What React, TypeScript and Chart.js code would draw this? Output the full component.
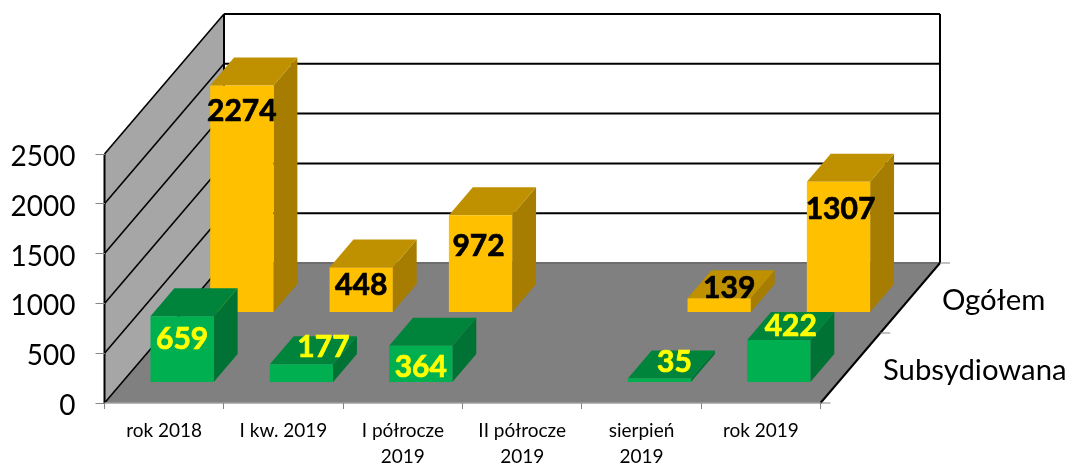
import React, { useEffect, useRef } from "react";
import { Chart, registerables } from "chart.js";

Chart.register(...registerables);

const categories: (string | string[])[] = [
  "rok 2018",
  "I kw. 2019",
  ["I półrocze", "2019"],
  ["II półrocze", "2019"],
  ["sierpień", "2019"],
  "rok 2019",
];
const ogolem: (number | null)[] = [2274, 448, 972, null, 139, 1307];
const subsydiowana: (number | null)[] = [659, 177, 364, null, 35, 422];
const yMax = 2500;
const yStep = 500;

// 3D projection of the floor: a full depth moves this many px right / up
const DEPTH_X = 119.5;
const DEPTH_Y = 140;
const SERIES_DEPTH = [0.65, 0.15]; // where each series stands on the floor
const BAR_DEPTH = 0.2;

// hand-placed label offsets, relative to the top-front centre of each bar
const labelOffsets: { dx: number; dy: number }[][] = [
  [
    { dx: 0, dy: 26 },
    { dx: 0, dy: 18 },
    { dx: -2, dy: 31 },
    { dx: 0, dy: 0 },
    { dx: 10, dy: -10 },
    { dx: 2, dy: 28 },
  ],
  [
    { dx: 0, dy: 23 },
    { dx: 22, dy: -17 },
    { dx: 0, dy: 22 },
    { dx: 0, dy: 0 },
    { dx: 15, dy: -16 },
    { dx: 12, dy: -14 },
  ],
];
const faceColors = [
  { front: "#FFC000", top: "#BF9000", side: "#A67D00", label: "#000000" },
  { front: "#00B050", top: "#00843C", side: "#007234", label: "#FFFF00" },
];

function poly(ctx: CanvasRenderingContext2D, pts: number[][], fill: string) {
  ctx.beginPath();
  pts.forEach(([x, y], i) => (i ? ctx.lineTo(x, y) : ctx.moveTo(x, y)));
  ctx.closePath();
  ctx.fillStyle = fill;
  ctx.fill();
}

function line(ctx: CanvasRenderingContext2D, x1: number, y1: number, x2: number, y2: number, color: string, w: number) {
  ctx.beginPath();
  ctx.moveTo(x1, y1);
  ctx.lineTo(x2, y2);
  ctx.strokeStyle = color;
  ctx.lineWidth = w;
  ctx.stroke();
}

const box3d = {
  id: "box3d",
  beforeDraw(chart: any) {
    const { ctx, chartArea: a, scales } = chart;
    const y = scales.y;
    const y0 = y.getPixelForValue(0);
    const yTop = y.getPixelForValue(yMax);
    ctx.save();
    // left wall
    poly(ctx, [[a.left, y0], [a.left + DEPTH_X, y0 - DEPTH_Y], [a.left + DEPTH_X, yTop - DEPTH_Y], [a.left, yTop]], "#A6A6A6");
    // floor
    poly(ctx, [[a.left, y0], [a.right, y0], [a.right + DEPTH_X, y0 - DEPTH_Y], [a.left + DEPTH_X, y0 - DEPTH_Y]], "#808080");
    // grid lines on both walls
    y.ticks.forEach((t: any) => {
      const py = y.getPixelForValue(t.value);
      if (t.value > 0) {
        line(ctx, a.left + DEPTH_X, py - DEPTH_Y, a.right + DEPTH_X, py - DEPTH_Y, "#000000", 2);
      }
      line(ctx, a.left, py, a.left + DEPTH_X, py - DEPTH_Y, "#000000", 1.6);
    });
    // wall edges
    line(ctx, a.left + DEPTH_X, y0 - DEPTH_Y, a.right + DEPTH_X, y0 - DEPTH_Y, "#6E6E6E", 2);
    line(ctx, a.left + DEPTH_X, yTop - DEPTH_Y, a.left + DEPTH_X, y0 - DEPTH_Y, "#000000", 2);
    line(ctx, a.right + DEPTH_X, yTop - DEPTH_Y, a.right + DEPTH_X, y0 - DEPTH_Y, "#000000", 2);
    line(ctx, a.left, yTop, a.left, y0, "#000000", 2);
    line(ctx, a.right, y0, a.right + DEPTH_X, y0 - DEPTH_Y, "#000000", 2);
    line(ctx, a.left, y0, a.right, y0, "#A0A0A0", 1.5);
    // depth axis ticks and series names
    [0, 0.5, 1].forEach((d) => {
      const px = a.right + DEPTH_X * d;
      const py = y0 - DEPTH_Y * d;
      line(ctx, px, py, px + 10, py, "#868686", 1);
    });
    ctx.fillStyle = "#000000";
    ctx.font = "29.3px Lato";
    ctx.textBaseline = "middle";
    ctx.textAlign = "left";
    ctx.fillText(chart.data.datasets[0].label, 942, 301);
    ctx.fillText(chart.data.datasets[1].label, 883, 371);
    ctx.restore();
  },
  beforeDatasetsDraw(chart: any) {
    const { ctx, scales } = chart;
    const y0 = scales.y.getPixelForValue(0);
    ctx.save();
    const labels: (() => void)[] = [];
    chart.data.datasets.forEach((ds: any, si: number) => {
      const meta = chart.getDatasetMeta(si);
      const shiftX = DEPTH_X * SERIES_DEPTH[si];
      const shiftY = DEPTH_Y * SERIES_DEPTH[si];
      const dx = DEPTH_X * BAR_DEPTH;
      const dy = DEPTH_Y * BAR_DEPTH;
      const c = faceColors[si];
      meta.data.forEach((el: any, i: number) => {
        const v = ds.data[i];
        if (v == null) return;
        const l = el.x - el.width / 2 + shiftX;
        const r = el.x + el.width / 2 + shiftX;
        const top = el.y - shiftY;
        const bot = y0 - shiftY;
        poly(ctx, [[r, bot], [r + dx, bot - dy], [r + dx, top - dy], [r, top]], c.side);
        poly(ctx, [[l, top], [r, top], [r + dx, top - dy], [l + dx, top - dy]], c.top);
        poly(ctx, [[l, bot], [r, bot], [r, top], [l, top]], c.front);
        labels.push(() => {
          const o = labelOffsets[si][i];
          ctx.font = "bold 30px Lato";
          ctx.textAlign = "center";
          ctx.textBaseline = "middle";
          ctx.fillStyle = c.label;
          ctx.strokeStyle = c.label;
          ctx.lineWidth = 0.7;
          ctx.fillText(String(v), (l + r) / 2 + o.dx, top + o.dy);
          ctx.strokeText(String(v), (l + r) / 2 + o.dx, top + o.dy);
        });
      });
    });
    labels.forEach((f) => f());
    ctx.restore();
    return false;
  },
};

export default function App() {
  const ref = useRef<HTMLCanvasElement>(null);
  useEffect(() => {
    document.body.style.margin = "0";
    const chart = new Chart(ref.current as HTMLCanvasElement, {
      type: "bar",
      data: {
        labels: categories as any,
        datasets: [
          { label: "Ogółem", data: ogolem, backgroundColor: "#FFC000" },
          { label: "Subsydiowana", data: subsydiowana, backgroundColor: "#00B050" },
        ],
      },
      options: {
        animation: false,
        responsive: false,
        events: [],
        datasets: { bar: { grouped: false, barPercentage: 0.53, categoryPercentage: 1 } },
        layout: { padding: { top: 154, right: 249.5, left: 0, bottom: 0 } },
        plugins: { legend: { display: false }, tooltip: { enabled: false }, title: { display: false } },
        scales: {
          x: {
            offset: true,
            border: { display: false },
            grid: { drawOnChartArea: false, color: "#868686", tickLength: 6, offset: true },
            ticks: {
              autoSkip: false,
              maxRotation: 0,
              minRotation: 0,
              color: "#000000",
              padding: 9,
              font: { family: "Lato", size: 19, lineHeight: 1.37 },
            },
            afterFit: (s: any) => {
              s.height = 60;
            },
          },
          y: {
            min: 0,
            max: yMax,
            border: { display: false },
            grid: { drawOnChartArea: false, color: "#868686", tickLength: 9 },
            ticks: {
              stepSize: yStep,
              color: "#000000",
              padding: 20,
              labelOffset: 3,
              callback: (v: any) => String(v),
              font: { family: "Lato", size: 28 },
            },
            afterFit: (s: any) => {
              s.width = 104.5;
            },
          },
        },
      },
      plugins: [box3d as any],
    });
    return () => chart.destroy();
  }, []);
  return <canvas ref={ref} width={1070} height={463} style={{ display: "block" }} />;
}
